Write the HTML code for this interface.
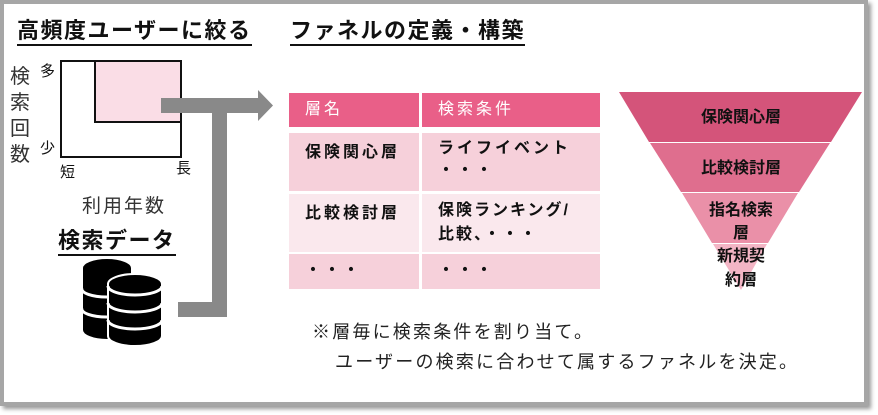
<!DOCTYPE html>
<html><head><meta charset="utf-8"><style>
*{margin:0;padding:0;box-sizing:border-box}
body{width:878px;height:415px;background:#fff;position:relative;overflow:hidden;font-family:"Liberation Sans","Noto Sans CJK JP",sans-serif;color:#111}
.a{position:absolute;white-space:nowrap}
.t{font-size:22px;font-weight:bold;letter-spacing:1.5px;border-bottom:2px solid #111;line-height:26px}
.cell{position:absolute;font-size:16px;font-weight:bold;line-height:27px;padding:6px 0 0 16px;letter-spacing:3px}
</style></head><body>
<div class="a" style="left:0;top:0;width:868px;height:406px;border:4px solid #a6a6a6;box-shadow:3px 3px 4px #999"></div>
<div class="a t" style="left:17px;top:18px">高頻度ユーザーに絞る</div>
<div class="a t" style="left:290px;top:18px">ファネルの定義・構築</div>
<!-- chart -->
<div class="a" style="left:60px;top:60px;width:122px;height:98px;border:2px solid #111"></div>
<div class="a" style="left:94px;top:60px;width:88px;height:63px;border:2px solid #111;background:#fadde6"></div>
<div class="a" style="left:10px;top:64px;font-size:20px;line-height:26px;width:22px;white-space:normal;color:#333">検索回数</div>
<div class="a" style="left:40px;top:60px;font-size:15px">多</div>
<div class="a" style="left:40px;top:137px;font-size:15px">少</div>
<div class="a" style="left:60px;top:161px;font-size:15px">短</div>
<div class="a" style="left:176px;top:157px;font-size:15px">長</div>
<div class="a" style="left:82px;top:191px;font-size:19px;letter-spacing:2px;color:#333">利用年数</div>
<div class="a t" style="left:58px;top:228px;font-size:22px">検索データ</div>
<!-- db icon -->
<svg class="a" style="left:80px;top:256px" width="86" height="92" viewBox="0 0 86 92">
<g fill="#000" stroke="#fff" stroke-width="2">
<path d="M2 12 a25 10 0 0 1 50 0 v62 a25 10 0 0 1 -50 0z"/>
<path d="M28 28 a27 10 0 0 1 54 0 v52 a27 10 0 0 1 -54 0z"/>
</g>
<g stroke="#fff" stroke-width="3" fill="none">
<path d="M2 32 a25 8 0 0 0 26 9"/><path d="M2 52 a25 8 0 0 0 26 9"/>
<path d="M28 30 a27 9 0 0 0 54 0"/><path d="M28 47 a27 9 0 0 0 54 0"/><path d="M28 64 a27 9 0 0 0 54 0"/>
</g></svg>
<!-- arrow -->
<svg class="a" style="left:0;top:0" width="300" height="330">
<g fill="#898989">
<rect x="161" y="98" width="98" height="15"/>
<polygon points="258,90 273,105.5 258,121"/>
<rect x="212" y="98" width="15" height="219"/>
<rect x="178" y="302" width="49" height="15"/>
</g></svg>
<!-- table -->
<div class="cell" style="left:289px;top:93px;width:130px;height:34px;background:#e95f88;color:#fff;font-weight:normal;padding-top:3px">層名</div>
<div class="cell" style="left:422px;top:93px;width:178px;height:34px;background:#e95f88;color:#fff;font-weight:normal;padding-top:3px">検索条件</div>
<div class="cell" style="left:289px;top:133px;width:130px;height:58px;background:#f6d0da">保険関心層</div>
<div class="cell" style="left:422px;top:133px;width:178px;height:58px;background:#f6d0da;line-height:22px;padding-top:5px">ライフイベント<br>・・・</div>
<div class="cell" style="left:289px;top:194px;width:130px;height:58px;background:#fae8ed">比較検討層</div>
<div class="cell" style="left:422px;top:194px;width:178px;height:58px;background:#fae8ed;line-height:24px;padding-top:5px;letter-spacing:2px">保険ランキング/<br>比較、・・・</div>
<div class="cell" style="left:289px;top:254px;width:130px;height:35px;background:#f6d0da;padding-top:3px">・・・</div>
<div class="cell" style="left:422px;top:254px;width:178px;height:35px;background:#f6d0da;padding-top:3px">・・・</div>
<!-- funnel -->
<svg class="a" style="left:600px;top:80px" width="278" height="220">
<polygon points="19,12 262,12 231,62 49,62" fill="#d4547a"/>
<polygon points="50,63 230,63 199,112 81,112" fill="#df6e8e"/>
<polygon points="82,113 198,113 168,163 112,163" fill="#ea90a8"/>
<polygon points="113,164 167,164 141,210" fill="#f3b5c5"/>
<g font-size="16" font-weight="bold" text-anchor="middle" fill="#111">
<text x="141" y="42">保険関心層</text>
<text x="141" y="93">比較検討層</text>
<text x="141" y="135">指名検索</text>
<text x="141" y="158">層</text>
<text x="141" y="181">新規契</text>
<text x="141" y="205">約層</text>
</g></svg>
<div class="a" style="left:312px;top:318px;font-size:18px;letter-spacing:2.2px;color:#222">※層毎に検索条件を割り当て。</div>
<div class="a" style="left:335px;top:348px;font-size:18px;letter-spacing:2.2px;color:#222">ユーザーの検索に合わせて属するファネルを決定。</div>
</body></html>
